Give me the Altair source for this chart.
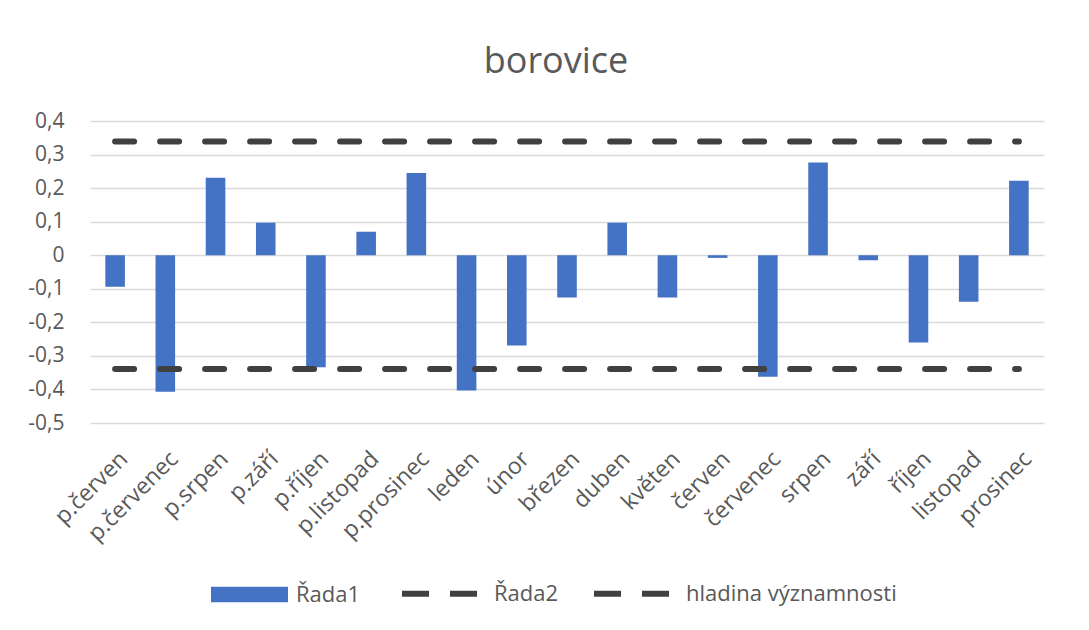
import altair as alt
import pandas as pd

categories = ["p.červen", "p.červenec", "p.srpen", "p.září", "p.říjen", "p.listopad",
              "p.prosinec", "leden", "únor", "březen", "duben", "květen", "červen",
              "červenec", "srpen", "září", "říjen", "listopad", "prosinec"]
rada1 = [-0.094, -0.407, 0.231, 0.097, -0.334, 0.070, 0.245, -0.403, -0.269, -0.126,
         0.097, -0.126, -0.008, -0.362, 0.276, -0.015, -0.260, -0.139, 0.222]
rada2 = [0.339, 0.339, 0.339, 0.339, 0.339, 0.339, 0.339, 0.339, 0.339, 0.339,
         0.339, 0.339, 0.339, 0.339, 0.339, 0.339, 0.339, 0.339, 0.339]
hladina = [-0.339, -0.339, -0.339, -0.339, -0.339, -0.339, -0.339, -0.339, -0.339, -0.339,
           -0.339, -0.339, -0.339, -0.339, -0.339, -0.339, -0.339, -0.339, -0.339]
y_ticks = [-0.5, -0.4, -0.3, -0.2, -0.1, 0.0, 0.1, 0.2, 0.3, 0.4]

bars_df = pd.DataFrame({"category": categories, "value": rada1, "series": "Řada1"})
lines_df = pd.concat([
    pd.DataFrame({"category": categories, "value": rada2, "series": "Řada2"}),
    pd.DataFrame({"category": categories, "value": hladina, "series": "hladina významnosti"}),
])

FONT = "Open Sans"
TXT = "#595959"

x_enc = alt.X("category:N", sort=categories, title=None,
              scale=alt.Scale(paddingInner=0.61, paddingOuter=0.305),
              axis=alt.Axis(labelAngle=-45, labelAlign="right", labelBaseline="middle",
                            labelFontSize=23, labelColor=TXT, labelFont=FONT,
                            labelPadding=32, labelOffset=9, labelOverlap=False,
                            labelLimit=300, ticks=False, domain=False, grid=False))
y_enc = alt.Y("value:Q", title=None,
              scale=alt.Scale(domain=[-0.5, 0.4], nice=False, zero=False),
              axis=alt.Axis(values=y_ticks, tickCount=20, labelFontSize=21, labelColor=TXT,
                            labelFont=FONT, labelPadding=26, ticks=False, domain=False,
                            labelOverlap=False, gridColor="#d9d9d9", gridWidth=1.5,
                            labelExpr="replace(toString(round(datum.value*10)/10), '.', ',')"))

bars = alt.Chart(bars_df).mark_bar().encode(
    x=x_enc,
    y=y_enc,
    fill=alt.Fill("series:N", title=None,
                  scale=alt.Scale(domain=["Řada1"], range=["#4472c4"]),
                  legend=alt.Legend(orient="none", legendX=121, legendY=435,
                                    symbolType="M-1,-0.2H1V0.2H-1Z", symbolSize=5929,
                                    symbolStrokeWidth=0, symbolOpacity=1,
                                    labelFont=FONT, labelFontSize=22, labelColor=TXT,
                                    labelOffset=8, padding=0, labelLimit=400)),
)

lines = alt.Chart(lines_df).mark_line(strokeWidth=6, strokeDash=[19, 26], strokeCap="round").encode(
    x=alt.X("category:N", sort=categories),
    y=alt.Y("value:Q"),
    stroke=alt.Stroke("series:N", title=None,
                      scale=alt.Scale(domain=["Řada2", "hladina významnosti"],
                                      range=["#404040", "#404040"]),
                      legend=alt.Legend(orient="none", legendX=309, legendY=432,
                                        direction="horizontal", symbolType="stroke",
                                        symbolSize=5625, symbolDash=[27, 21],
                                        symbolStrokeWidth=6,
                                        labelFont=FONT, labelFontSize=22, labelColor=TXT,
                                        labelOffset=14, columnPadding=23, padding=0,
                                        labelLimit=400)),
)

chart = alt.layer(bars, lines).properties(
    width=954, height=302,
    title=alt.TitleParams("borovice", fontSize=36, font=FONT, color=TXT,
                          fontWeight="normal", offset=29, dx=-11, anchor="middle"),
    autosize=alt.AutoSizeParams(type="none"),
    padding={"left": 82, "top": 113, "right": 37, "bottom": 199},
).configure(font=FONT).configure_view(stroke=None)

chart.save("out.html", embed_options={"renderer": "svg", "actions": False})
